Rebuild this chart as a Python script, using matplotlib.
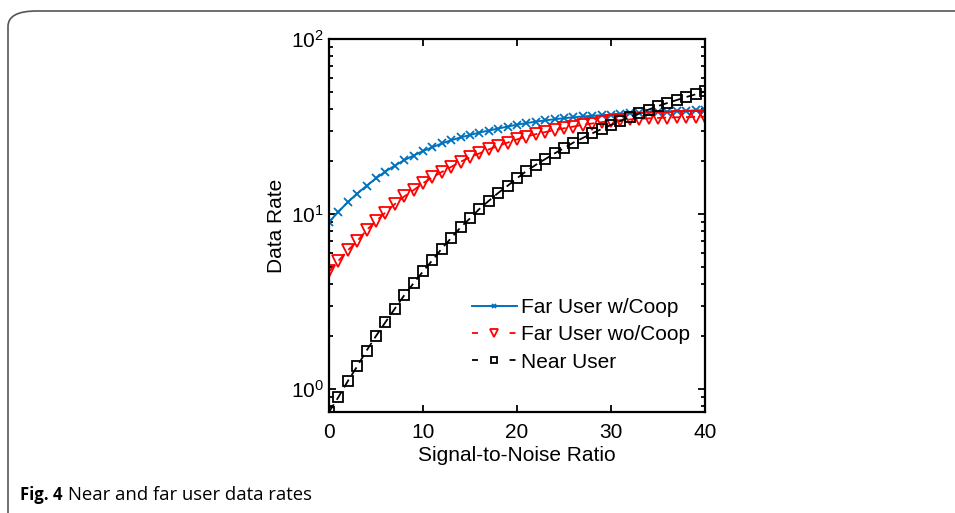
import numpy as np
import matplotlib
matplotlib.use("Agg")
import matplotlib.pyplot as plt
from matplotlib.patches import FancyBboxPatch

plt.rcParams["font.family"] = ["Liberation Sans", "DejaVu Sans"]
plt.rcParams["mathtext.fontset"] = "custom"
plt.rcParams["mathtext.rm"] = "Liberation Sans"
plt.rcParams["mathtext.it"] = "Liberation Sans"

snr = list(range(0, 41))

far_coop = [9.0, 10.3, 11.7, 13.1, 14.5, 16.0, 17.5, 18.9, 20.3, 21.6,
            22.9, 24.1, 25.3, 26.4, 27.4, 28.3, 29.2, 30.0, 30.8, 31.6,
            32.4, 33.1, 33.7, 34.3, 34.8, 35.3, 35.7, 36.1, 36.4, 36.7,
            37.0, 37.3, 37.6, 37.8, 38.0, 38.3, 38.5, 38.7, 38.9, 39.1, 39.3]

far_nocoop = [4.7, 5.4, 6.2, 7.0, 8.1, 9.1, 10.2, 11.4, 12.6, 13.7,
              15.0, 16.2, 17.4, 18.6, 19.9, 21.1, 22.2, 23.4, 24.5, 25.6,
              26.7, 27.7, 28.6, 29.4, 30.2, 30.9, 31.6, 32.3, 32.9, 33.5,
              34.0, 34.4, 34.7, 35.0, 35.2, 35.4, 35.6, 35.7, 35.8, 35.9, 36.0]

near_user = [0.74, 0.90, 1.11, 1.35, 1.66, 2.01, 2.41, 2.88, 3.43, 4.03,
             4.70, 5.45, 6.35, 7.3, 8.4, 9.45, 10.7, 11.9, 13.2, 14.5,
             16.0, 17.6, 19.1, 20.6, 22.2, 23.8, 25.6, 27.2, 28.9, 30.6,
             32.3, 34.0, 35.8, 37.6, 39.5, 41.4, 43.1, 44.8, 46.6, 48.3, 50.2]

fig = plt.figure(figsize=(9.55, 5.13), dpi=100)

# rounded frame of the figure panel
frame = FancyBboxPatch((8 / 955, -0.2), 1.2, 1.2 - 11 / 513,
                       boxstyle="round,pad=0,rounding_size=0.03",
                       transform=fig.transFigure, facecolor="none",
                       edgecolor="#555555", linewidth=1.2, clip_on=False)
fig.patches.append(frame)

ax = fig.add_axes([329 / 955, 1 - 412 / 513, 376 / 955, 373 / 513])

ax.plot(snr, far_coop, color="#0072BD", linestyle="-", marker="x",
        markersize=5.5, markeredgewidth=1.3, linewidth=1.4,
        label="Far User w/Coop")
ax.plot(snr, far_nocoop, color="#FF0000", linestyle=(0, (5, 3)), marker="v",
        markersize=8.5, markerfacecolor="none", markeredgewidth=1.3,
        linewidth=1.3, label="Far User wo/Coop")
ax.plot(snr, near_user, color="black", linestyle=(0, (5, 3)), marker="s",
        markersize=6.5, markerfacecolor="none", markeredgewidth=1.3,
        linewidth=1.3, label="Near User")

ax.set_yscale("log")
ax.set_xlim(0, 40)
ax.set_ylim(0.74, 100)
ax.set_xticks([0, 10, 20, 30, 40])
ax.tick_params(axis="both", which="both", direction="in", top=True,
               right=True, labelsize=15, width=1.3)
ax.tick_params(axis="both", which="major", length=5)
ax.tick_params(axis="both", which="minor", length=3)
ax.tick_params(axis="x", pad=8)
for s in ax.spines.values():
    s.set_linewidth(1.6)

ax.set_xlabel("Signal-to-Noise Ratio", fontsize=15, labelpad=3)
ax.set_ylabel("Data Rate", fontsize=15, labelpad=4)

leg = ax.legend(loc="upper left", bbox_to_anchor=(143 / 376, 114 / 373),
                frameon=False, fontsize=15, handlelength=2.15,
                handletextpad=0.2, labelspacing=0.4, borderpad=0,
                borderaxespad=0, markerscale=0.6)
# legend handles show one short dash on each side of the marker
for line in leg.get_lines()[1:]:
    line.set_linestyle((0, (3.3, 17.5)))

fig.text(20 / 955, 1 - 495 / 513, "Fig. 4", fontsize=12, fontweight="bold",
         family=["Open Sans", "DejaVu Sans"], va="center", ha="left")
fig.text(68 / 955, 1 - 495 / 513, "Near and far user data rates",
         fontsize=13.3, family=["Open Sans", "DejaVu Sans"],
         va="center", ha="left")

fig.savefig("out.png", dpi=100)
